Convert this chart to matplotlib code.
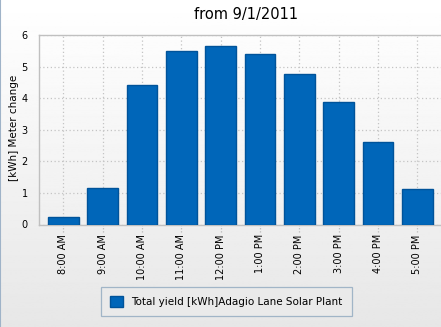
import numpy as np
import matplotlib
matplotlib.use("Agg")
import matplotlib.pyplot as plt

hours = ["8:00 AM", "9:00 AM", "10:00 AM", "11:00 AM", "12:00 PM",
         "1:00 PM", "2:00 PM", "3:00 PM", "4:00 PM", "5:00 PM"]
yield_kwh = [0.24, 1.15, 4.42, 5.49, 5.65, 5.40, 4.77, 3.89, 2.61, 1.11]
yticks = [0, 1, 2, 3, 4, 5, 6]
title = "from 9/1/2011"
ylabel = "[kWh] Meter change"
series_name = "Total yield [kWh]Adagio Lane Solar Plant"

W, H = 441, 327
fig = plt.figure(figsize=(W / 100, H / 100), dpi=100)

# background gradient
bg = fig.add_axes([0, 0, 1, 1], zorder=-10)
grad = np.linspace(1.0, 0.905, 256).reshape(-1, 1)
bg.imshow(grad, aspect="auto", cmap="gray", vmin=0, vmax=1, extent=[0, 1, 0, 1])
bg.axvline(0.001, color="#9fb3c8", lw=1.5)
bg.set_xlim(0, 1); bg.set_ylim(0, 1)
bg.axis("off")

left, right, top, bottom = 39, 441, 35, 224.5
ax = fig.add_axes([left / W, (H - bottom) / H, (right - left) / W, (bottom - top) / H])
ax.patch.set_alpha(0)
# plot-area gradient (slightly lighter)
ax.imshow(np.linspace(0.99, 0.94, 256).reshape(-1, 1), aspect="auto", cmap="gray",
          vmin=0, vmax=1, extent=[-0.618, 9.60, 0, 6], zorder=0)

x = np.arange(len(hours))
ax.bar(x, yield_kwh, width=0.775, color="#0066b9", edgecolor="#00539a",
       linewidth=1.0, zorder=3, label=series_name)

ax.set_xlim(-0.618, 9.60)
ax.set_ylim(0, 6)
ax.set_yticks(yticks)
ax.set_yticklabels([str(v) for v in yticks], fontsize=7)
ax.set_xticks(x)
ax.set_xticklabels(hours, rotation=90, fontsize=7)
ax.grid(True, color="#c4c4c4", linestyle=(0, (1, 2)), linewidth=0.9, zorder=1)
ax.tick_params(axis="y", length=0, pad=8)
ax.tick_params(axis="x", length=0, pad=7)
# dotted tick marks below the x axis
ax.vlines(x, -7 / (bottom - top), 0, transform=ax.get_xaxis_transform(),
          colors="#b8b8b8", linestyles=(0, (1, 1.5)), linewidth=0.9, clip_on=False)
for s in ["top", "left", "bottom"]:
    ax.spines[s].set_color("#c0c0c0")
    ax.spines[s].set_linewidth(1.0)
ax.spines["right"].set_visible(False)

fig.text(14.5 / W, 1 - 128 / H, ylabel, rotation=90, ha="center", va="center", fontsize=7.5)
fig.text(246 / W, 1 - 14 / H, title, ha="center", va="center", fontsize=10.5)

leg = fig.legend(loc="center", bbox_to_anchor=(226.5 / W, (H - 301.4) / H),
                 fontsize=7.5, frameon=True, fancybox=False, handlelength=1.2,
                 handleheight=1.2, borderpad=0.9, handletextpad=0.8)
leg.get_frame().set_edgecolor("#8fa8bf")
leg.get_frame().set_facecolor("#ebebeb")
leg.get_frame().set_linewidth(0.9)

fig.savefig("out.png", dpi=100)
